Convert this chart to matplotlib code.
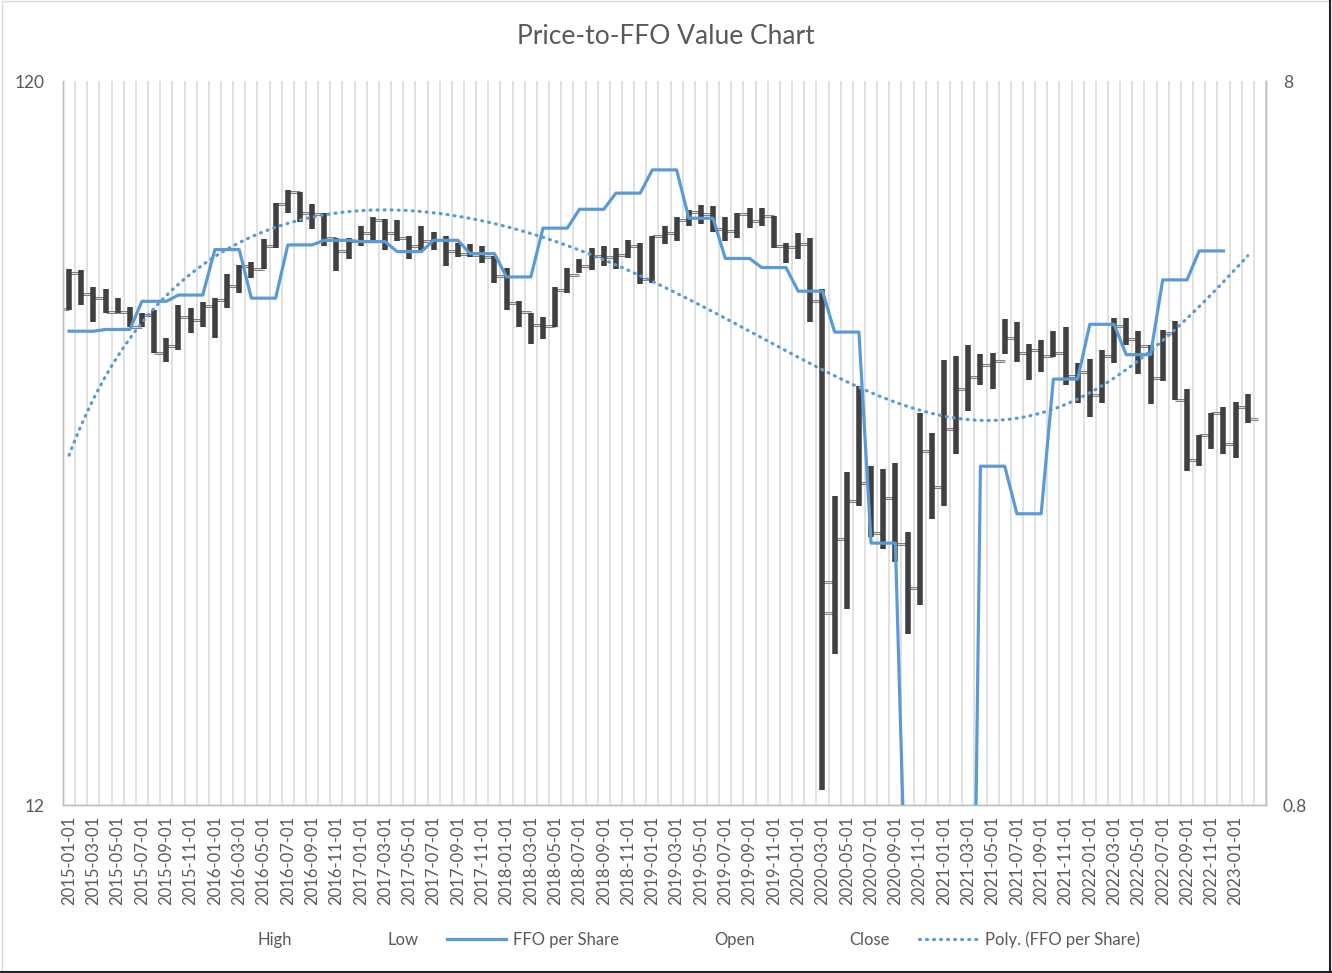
#!/usr/bin/env python3
import numpy as np
import pandas as pd
import matplotlib
matplotlib.use("Agg")
import matplotlib.pyplot as plt
from matplotlib.lines import Line2D
from matplotlib.ticker import NullLocator, FixedLocator

plt.rcParams["font.family"] = ["Lato", "DejaVu Sans"]

# monthly price bars, 2015-01 .. 2023-02
high = [66.0, 65.8, 62.3, 61.9, 60.2, 58.4, 57.3, 57.9, 53.0, 58.9, 58.3, 59.5,
        60.2, 64.9, 66.9, 67.5, 72.6, 81.5, 84.9, 84.4, 81.2, 78.9, 72.8, 72.8,
        75.6, 77.8, 77.3, 77.1, 73.2, 75.6, 74.2, 73.2, 71.6, 71.4, 71.1, 68.8,
        66.3, 59.6, 57.3, 56.6, 62.3, 66.3, 68.1, 70.6, 70.9, 70.6, 72.4, 71.6,
        73.4, 75.6, 77.8, 79.6, 81.0, 80.7, 77.8, 78.9, 80.0, 80.2, 78.1, 71.6,
        74.0, 72.8, 61.9, 32.1, 34.6, 45.5, 35.3, 34.9, 35.6, 28.6, 41.8, 39.2,
        49.4, 50.0, 51.9, 50.3, 50.5, 56.3, 55.7, 52.0, 52.6, 54.1, 54.8, 48.9,
        49.6, 51.0, 56.5, 56.5, 54.1, 51.8, 54.3, 56.0, 45.0, 38.9, 41.7, 42.6,
        43.3, 44.3]
low = [57.9, 58.9, 55.8, 57.3, 57.3, 54.8, 54.8, 50.5, 49.1, 51.0, 53.8, 54.8,
       53.0, 58.3, 61.1, 64.1, 66.0, 70.6, 78.9, 76.6, 74.9, 71.1, 65.6, 68.1,
       71.1, 72.4, 70.1, 72.2, 68.1, 70.1, 70.1, 66.6, 68.6, 68.6, 67.2, 63.1,
       57.9, 54.9, 52.0, 52.8, 54.8, 61.1, 65.1, 65.8, 66.6, 66.0, 68.3, 62.9,
       63.1, 71.4, 72.2, 75.6, 76.1, 74.2, 72.2, 72.8, 75.2, 75.6, 70.6, 67.2,
       68.1, 55.8, 12.6, 19.4, 22.4, 31.1, 28.1, 27.1, 26.0, 20.7, 22.7, 29.8,
       31.1, 36.6, 42.0, 45.7, 45.0, 50.3, 49.1, 46.4, 47.6, 49.9, 45.6, 43.1,
       41.2, 43.1, 48.9, 51.8, 47.3, 43.0, 46.2, 43.5, 34.7, 35.3, 37.2, 36.6,
       36.2, 40.5]
open_ = [58.2, 65.1, 61.0, 60.2, 57.6, 57.5, 54.9, 57.1, 50.6, 51.6, 56.6, 56.2,
         58.7, 59.8, 62.5, 66.6, 66.1, 70.9, 81.2, 84.2, 78.8, 78.5, 72.8, 69.8,
         72.2, 74.0, 77.1, 73.9, 72.8, 70.9, 72.2, 72.4, 69.8, 69.3, 69.1, 68.6,
         64.5, 59.2, 57.5, 55.2, 55.0, 61.8, 64.7, 66.6, 68.7, 68.6, 68.9, 71.1,
         64.0, 73.2, 73.9, 77.1, 79.1, 78.6, 74.9, 74.5, 78.6, 76.9, 78.1, 70.9,
         70.7, 71.4, 59.7, 22.1, 28.0, 31.6, 33.4, 28.5, 31.9, 27.5, 23.9, 37.0,
         33.0, 39.7, 45.0, 46.8, 48.6, 49.3, 53.0, 50.6, 51.0, 50.0, 50.5, 46.9,
         47.5, 44.2, 50.0, 55.0, 52.9, 51.7, 46.7, 53.8, 43.5, 36.0, 38.9, 41.8,
         37.8, 42.6]
close = [65.1, 61.0, 60.2, 57.6, 57.5, 54.9, 57.1, 50.6, 51.6, 56.6, 56.2, 58.7,
         59.8, 62.5, 66.6, 66.1, 70.9, 81.2, 84.2, 78.8, 78.5, 72.8, 69.8, 72.2,
         74.0, 77.1, 73.9, 72.8, 70.9, 72.2, 72.4, 69.8, 69.3, 69.1, 68.6, 64.5,
         59.2, 57.5, 55.2, 55.0, 61.8, 64.7, 66.6, 68.7, 68.6, 68.9, 71.1, 64.0,
         73.2, 73.9, 77.1, 79.1, 78.6, 74.9, 74.5, 78.6, 76.9, 78.1, 70.9, 70.7,
         71.4, 59.7, 24.4, 28.0, 31.6, 33.4, 28.5, 31.9, 27.5, 23.9, 37.0, 33.0,
         39.7, 45.0, 46.8, 48.6, 49.3, 53.0, 50.6, 51.0, 50.0, 50.5, 46.9, 47.5,
         44.2, 50.0, 55.0, 52.9, 51.7, 46.7, 53.8, 43.5, 36.0, 38.9, 41.8, 37.8,
         42.6, 40.9]

# FFO per share (right axis), quarterly steps
ffo = [3.61, 3.61, 3.61, 3.63, 3.63, 3.63, 3.97, 3.97, 3.97, 4.05, 4.05, 4.05,
       4.68, 4.68, 4.68, 4.01, 4.01, 4.01, 4.75, 4.75, 4.75, 4.82, 4.82, 4.82,
       4.80, 4.80, 4.80, 4.65, 4.65, 4.65, 4.82, 4.82, 4.82, 4.62, 4.62, 4.62,
       4.29, 4.29, 4.29, 5.01, 5.01, 5.01, 5.32, 5.32, 5.32, 5.60, 5.60, 5.60,
       6.03, 6.03, 6.03, 5.17, 5.17, 5.17, 4.55, 4.55, 4.55, 4.42, 4.42, 4.42,
       4.10, 4.10, 4.10, 3.60, 3.60, 3.60, 1.84, 1.84, 1.84, 0.47, 0.47, 0.47,
       0.12, 0.12, 0.12, 2.35, 2.35, 2.35, 2.02, 2.02, 2.02, 3.10, 3.10, 3.10,
       3.69, 3.69, 3.69, 3.35, 3.35, 3.35, 4.25, 4.25, 4.25, 4.66, 4.66, 4.66,
       None, None]

dates = pd.date_range("2015-01-01", periods=len(high), freq="MS")
labels = [d.strftime("%Y-%m-%d") for d in dates]
n_slots = len(high) + 1

x = np.arange(len(high))
ffo_arr = np.array([np.nan if v is None else v for v in ffo])
ok = ~np.isnan(ffo_arr)
coef = np.polyfit(x[ok], ffo_arr[ok], 3)
xt = np.linspace(0, len(high) - 1, 400)
trend = np.polyval(coef, xt)

text_c = "#595959"
blue = "#5B9BD5"
dots = (0, (0.3, 1.9))

fig = plt.figure(figsize=(13.32, 9.73), dpi=100)
ax = fig.add_axes([63 / 1332, 1 - 805 / 973, (1266 - 63) / 1332, (805 - 81) / 973])
ax2 = ax.twinx()

# category gridlines
ax.set_xlim(-0.5, n_slots - 0.5)
ax.xaxis.set_minor_locator(FixedLocator(np.arange(-0.5, n_slots, 1.0)))
ax.grid(which="minor", axis="x", color="#D9D9D9", lw=1.1)
ax.set_axisbelow(True)

# open / close ticks
for xi, o, c in zip(x, open_, close):
    for y0, x0, x1 in [(o, xi - 0.85, xi), (c, xi, xi + 0.85)]:
        ax.plot([x0, x1], [y0, y0], color="#7F7F7F", lw=2.0, solid_capstyle="butt", zorder=2)
        ax.plot([x0, x1], [y0, y0], color="white", lw=0.5, solid_capstyle="butt", zorder=2)
ax.vlines(x, low, high, color="#404040", lw=4.0, zorder=3)

ax.set_yscale("log")
ax.set_ylim(12, 120)
ax.yaxis.set_major_locator(FixedLocator([12, 120]))
ax.yaxis.set_minor_locator(NullLocator())
ax.set_yticklabels(["12", "120"])

ax.set_xticks(x[::2])
ax.set_xticklabels(labels[::2], rotation=90)

ax2.plot(x, ffo_arr, color=blue, lw=2.3, zorder=4)
ax2.plot(xt, trend, color=blue, lw=2.3, linestyle=dots, dash_capstyle="round", zorder=4)
ax2.set_yscale("log")
ax2.set_ylim(0.8, 8)
ax2.yaxis.set_major_locator(FixedLocator([0.8, 8]))
ax2.yaxis.set_minor_locator(NullLocator())
ax2.set_yticklabels(["0.8", "8"])

for a in (ax, ax2):
    a.tick_params(axis="both", which="both", length=0, colors=text_c, labelsize=12)
    a.spines["top"].set_visible(False)
    for s in ("left", "right", "bottom"):
        a.spines[s].set_color("#BFBFBF")
        a.spines[s].set_linewidth(1.0)
ax.tick_params(axis="y", pad=13, labelsize=12.5)
ax2.tick_params(axis="y", pad=12, labelsize=12.5)
ax.tick_params(axis="x", pad=8)

fig.text(0.5, 1 - 37 / 973, "Price-to-FFO Value Chart", ha="center", va="center",
         fontsize=19, color=text_c)

blank = Line2D([], [], linestyle="none")
handles = [blank, blank,
           Line2D([], [], color=blue, lw=2.3),
           blank, blank,
           Line2D([], [], color=blue, lw=2.3, linestyle=dots, dash_capstyle="round")]
names = ["High", "Low", "FFO per Share", "Open", "Close", "Poly. (FFO per Share)"]
fig.legend(handles, names, loc="center", bbox_to_anchor=(0.5, 1 - 940 / 973), ncol=6,
           frameon=False, fontsize=12, labelcolor=text_c, handlelength=3.5,
           handletextpad=0.45, columnspacing=1.75)

# chart area border
fig.add_artist(plt.Rectangle((0.0015, 0.0015), 0.997, 0.997, transform=fig.transFigure,
                             fill=False, edgecolor="#D9D9D9", lw=1.0))
fig.add_artist(Line2D([0.9985, 0.9985], [0, 1], transform=fig.transFigure, color="#222222", lw=1.5))
fig.add_artist(Line2D([0, 1], [0.0015, 0.0015], transform=fig.transFigure, color="#222222", lw=1.5))

fig.savefig("out.png", dpi=100)
